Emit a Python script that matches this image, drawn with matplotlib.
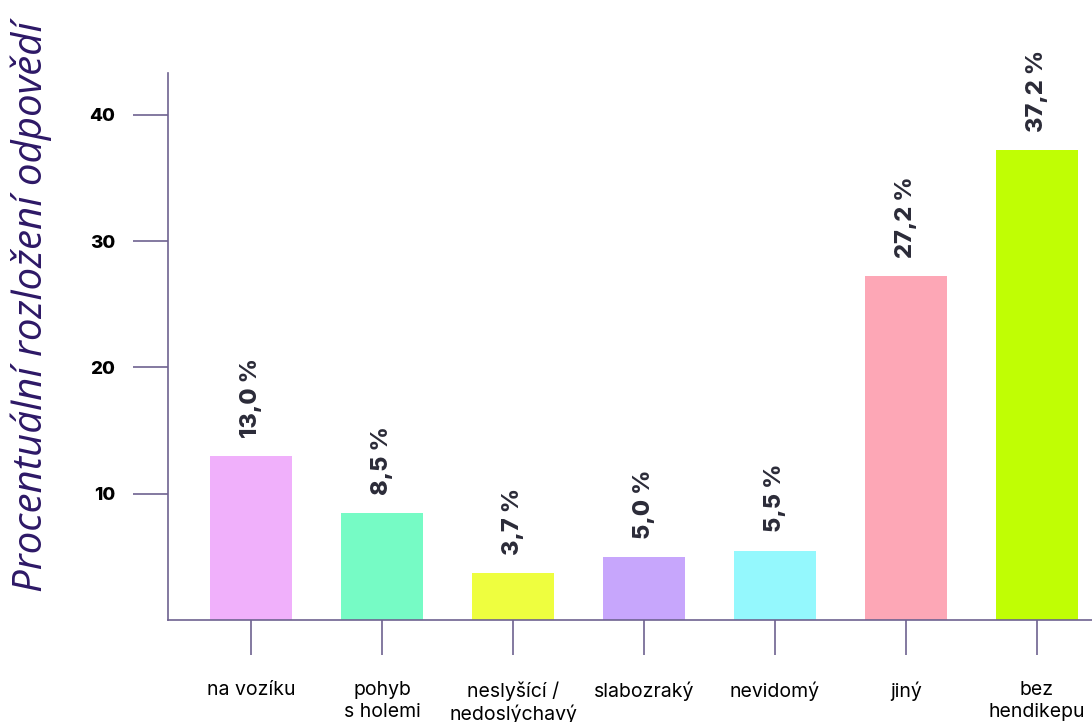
import matplotlib.pyplot as plt

categories = ["na vozíku", "pohyb\ns holemi", "neslyšící /\nnedoslýchavý", "slabozraký",
              "nevidomý", "jiný", "bez\nhendikepu"]
percent = [13.0, 8.5, 3.7, 5.0, 5.5, 27.2, 37.2]
bar_colors = ["#f0b0fb", "#76fbc5", "#eefe3f", "#c7a6fc", "#94f8fd", "#fda7b6", "#c0fe04"]
y_ticks = [10, 20, 30, 40]

axis_color = "#6e6290"
label_purple = "#2d1866"

plt.rcParams["font.family"] = ["Inter", "DejaVu Sans"]

fig = plt.figure(figsize=(10.92, 7.22), dpi=100)
ax = fig.add_axes([0.1538, 0.1413, 0.8462, 0.7576])

x = range(len(categories))
bars = ax.bar(x, percent, width=0.63, color=bar_colors)

for b, v in zip(bars, percent):
    ax.annotate(f"{v:.1f} %".replace(".", ","), (b.get_x() + b.get_width() / 2, b.get_height()),
                xytext=(0, 13), textcoords="offset points", rotation=90,
                ha="center", va="bottom", fontsize=17, fontweight="heavy", color="#2b2b38")

ax.set_xlim(-0.634, 6.42)
ax.set_ylim(0, 43.3)
ax.set_xticks(list(x))
ax.set_xticklabels(categories, fontsize=14, linespacing=1.25, va="top")
ax.set_yticks(y_ticks)
ax.set_yticklabels([str(t) for t in y_ticks], fontsize=13.5, fontweight="heavy")

ax.tick_params(axis="both", direction="out", length=25, width=1.2, color=axis_color)
ax.tick_params(axis="y", pad=13)
ax.tick_params(axis="x", pad=19)

for side in ["top", "right"]:
    ax.spines[side].set_visible(False)
for side in ["left", "bottom"]:
    ax.spines[side].set_color(axis_color)
    ax.spines[side].set_linewidth(1.2)

# y axis title sits low and runs off the top edge
fig.text(0.029, 0.18, "Procentuální rozložení odpovědí", rotation=90, ha="center", va="bottom",
         fontsize=29, style="italic", color=label_purple, family=["Open Sans", "DejaVu Sans"])

fig.savefig("out.png", dpi=100)
